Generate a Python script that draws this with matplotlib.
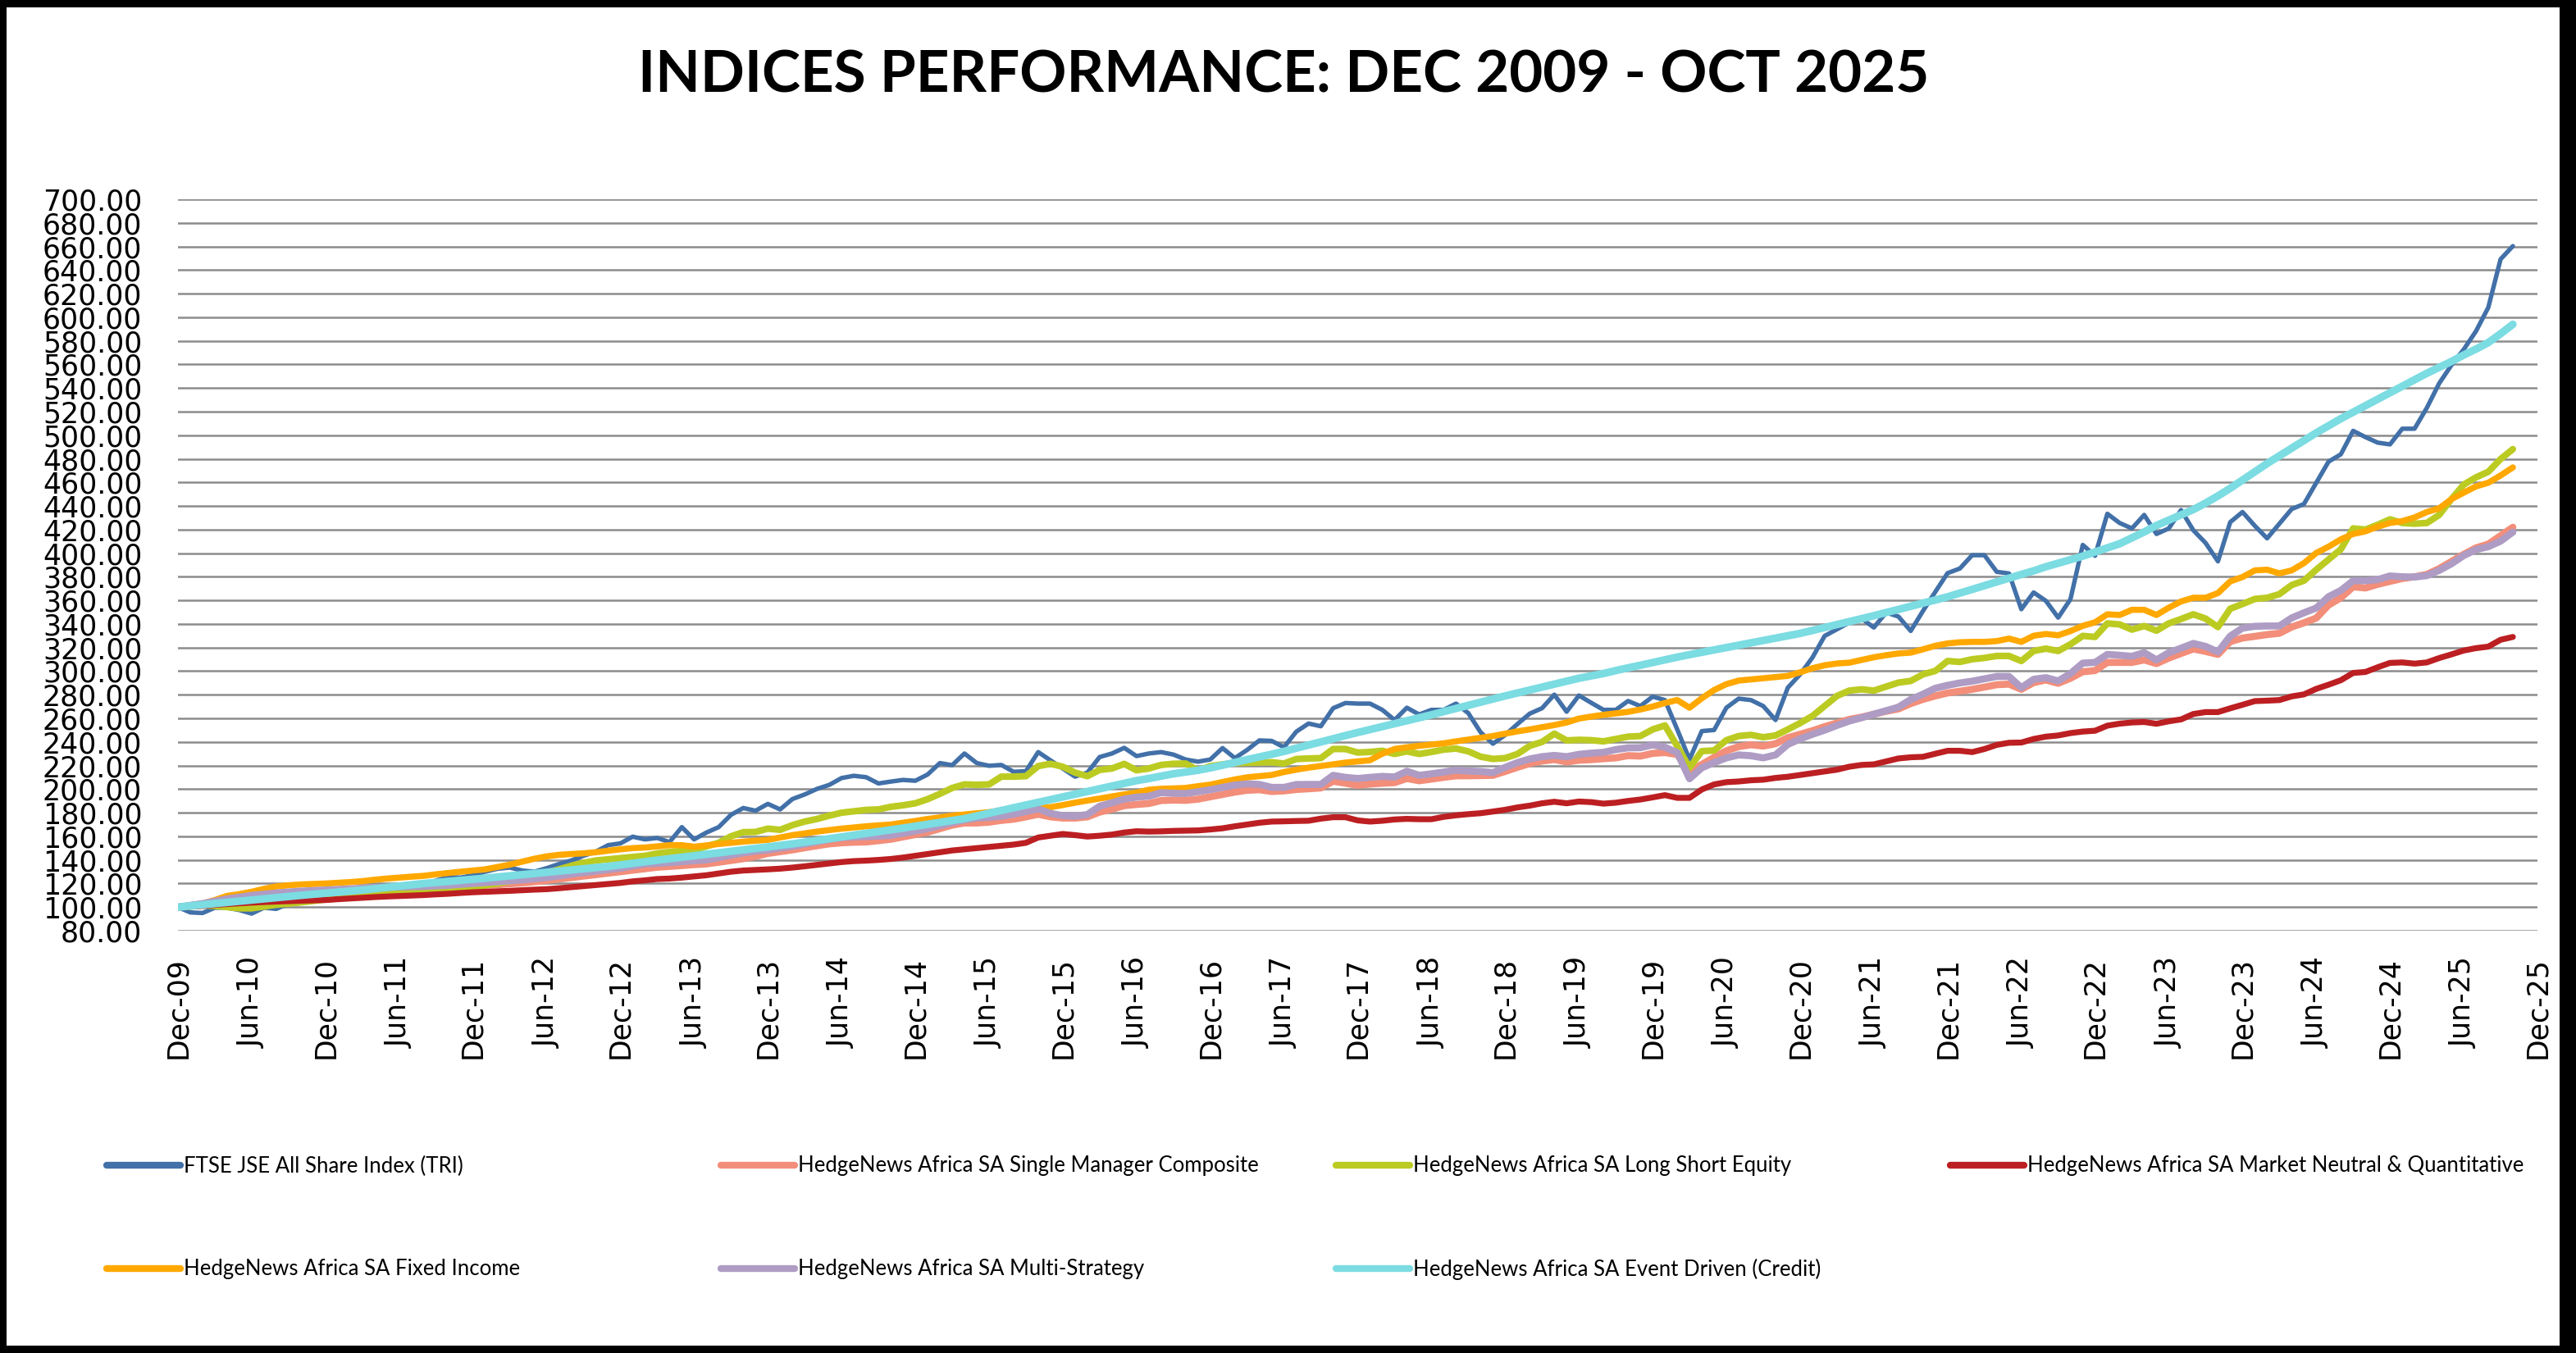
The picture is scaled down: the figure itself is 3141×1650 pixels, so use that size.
import numpy as np
import pandas as pd
import matplotlib
matplotlib.use("Agg")
import matplotlib.pyplot as plt
from matplotlib.lines import Line2D
from matplotlib.patches import Rectangle
from matplotlib.ticker import FuncFormatter

# Monthly index levels, Dec 2009 = 100, through Oct 2025 (one row per 12 months)
first_month = "2009-12-01"

ftse_alsi = [
    100, 95.5, 95, 99.5, 99.5, 97.5, 94.5, 99.5, 98.5, 103, 105, 107.5,
    109.5, 110, 111, 113, 114, 114.5, 115.5, 116, 119, 122.5, 125.5, 125,
    127, 130, 132.5, 133.5, 131, 130, 133, 136.5, 139.5, 143.5, 147, 152.5,
    154, 159.7, 157.4, 158.6, 155.1, 167.8, 157.4, 163.2, 167.8, 178.2, 184, 181.7,
    187.5, 182.8, 191.6, 195.5, 200.2, 203.6, 209.4, 211.3, 210.1, 204.8, 206.4, 207.8,
    207.1, 212.4, 222.1, 220.3, 230.2, 222.1, 219.8, 220.5, 214.7, 215.2, 231.4, 224.4,
    217.5, 210.6, 214, 227.2, 230.2, 235, 228, 230.2, 231.4, 229.3, 225.1, 223.3,
    225.1, 234.8, 226.3, 233.2, 241.3, 240.9, 235.5, 248.7, 255.6, 253.3, 268.6, 273,
    272.5, 272.5, 267.2, 258.6, 269, 263.3, 267.2, 267.2, 272.5, 264.4, 248.2, 238.5,
    245.9, 255.2, 264, 268.6, 280.1, 265.6, 279.4, 273.2, 267.2, 267.2, 274.7, 270.4,
    278.4, 275.5, 250.6, 225.2, 249.2, 250.1, 269, 276.7, 275.5, 270.4, 258.6, 286,
    297.3, 311.5, 329.9, 335.5, 341.2, 344.6, 337, 349.7, 346.3, 334.1, 351.1, 367.2,
    383.1, 387, 398.3, 398.3, 384.2, 382.8, 352.5, 366.7, 359.6, 345.4, 361, 407,
    397.8, 433.4, 425.6, 421, 432.4, 416.3, 421, 436.5, 419.4, 408.6, 393.1, 426.3,
    434.9, 423.2, 412.6, 425, 437.4, 441.7, 459.7, 477.6, 483.8, 503.7, 498.4, 493.7,
    492.2, 505.5, 505.5, 523.2, 543.9, 559.4, 572.7, 588.2, 608.3, 649.2, 660.3,
]

single_manager = [
    100, 101, 102, 103.3, 104.5, 105.5, 106.5, 107.3, 108, 108.8, 109.5, 110.3,
    111, 111.5, 112, 112.5, 113, 113.5, 114, 114.5, 115, 115.8, 116.5, 117.3,
    118, 118.5, 119, 119.8, 120.5, 121.5, 122.5, 123.8, 125, 126.3, 127.5, 128.8,
    130, 131.3, 132.5, 133.8, 134.5, 135.2, 136, 136.6, 138, 139.5, 141, 143,
    145.5, 147, 148.5, 150.3, 152, 153.6, 154.5, 155, 155.2, 156.3, 157.5, 159.5,
    161.5, 163.5, 166.5, 169.5, 171.3, 171.3, 172, 173.5, 174.5, 176.5, 178.7, 176.5,
    175.5, 175.5, 176.5, 180.5, 183, 186, 187, 187.8, 190.3, 190.7, 190.5, 191.5,
    193.5, 195.5, 197.5, 199, 199.5, 198, 198.5, 199.7, 200.3, 201, 206.7, 205,
    203.2, 204.3, 205, 205.5, 209, 207.1, 208.5, 210, 211.3, 211.3, 211.5, 211.7,
    215, 218.5, 221.7, 223.8, 225.1, 223, 224.5, 225, 225.8, 226.5, 228.4, 228,
    230.3, 231, 229.4, 215.3, 220.9, 227, 232.5, 236, 237.6, 236.5, 238.5, 243.6,
    246.5, 249.5, 253, 256, 259.1, 261, 263.5, 266, 268, 272.5, 276.1, 279,
    281.5, 283, 284.6, 286.5, 288.5, 289, 284.6, 290.3, 292.5, 289.7, 294, 299.5,
    300.5, 307.4, 307.4, 307.4, 309.5, 306.4, 311.1, 315, 318.8, 316.7, 314.2, 325,
    328.1, 329.5, 331, 332.1, 337.4, 341, 345, 356, 362.2, 371.5, 370.5, 373.6,
    376.1, 378.5, 380, 382, 386.9, 393, 399, 404.5, 407.7, 414.8, 422,
]

long_short = [
    100, 100.5, 101.5, 101, 100, 99, 99, 100.5, 102, 103, 104, 105.2,
    106.5, 107.3, 108.2, 109, 110, 111, 112, 113, 114, 114.5, 115, 116,
    117, 118.5, 120, 122, 124, 126.5, 129, 132, 135, 137.5, 139.5, 140.5,
    141.5, 142.5, 143.5, 145.5, 146.8, 147.7, 148.2, 151.5, 154.5, 160, 163.5, 163.7,
    166.5, 165.5, 169.5, 172.5, 174.7, 177.5, 180, 181.2, 182.4, 182.8, 185, 186.3,
    188, 191.5, 196, 201, 204, 203.7, 204, 210.6, 210.6, 211, 219.5, 221.5,
    219, 214, 211, 216.3, 217.5, 221.4, 216, 217.5, 220.5, 221.5, 221.7, 215.9,
    219.5, 221, 222, 222.4, 222.6, 222.8, 221.7, 225.5, 226, 226.3, 234, 234,
    231, 231.5, 232.5, 229.8, 232, 229.8, 231.5, 233.5, 234.4, 232, 227.5, 225.6,
    226.3, 229.8, 236.7, 240, 247, 241.3, 241.8, 241.5, 240.5, 242.5, 244.5, 245,
    250.6, 254, 236.5, 218.1, 232.2, 232.8, 241.5, 245, 246, 244, 245.5, 250.6,
    256, 262, 270.5, 279, 283.5, 284.6, 283.5, 286.9, 290.3, 291.7, 297.3, 300.2,
    308.6, 307.8, 310.1, 311.2, 312.9, 312.9, 308.6, 317.1, 319.1, 317.1, 322.8, 329.9,
    329, 340.5, 339.6, 335.2, 338.3, 334.3, 340.5, 344.2, 348.2, 344.5, 337.4, 352.9,
    356.9, 361.2, 362.2, 365.3, 373, 376.7, 386, 394.7, 403.3, 421, 420, 424.1,
    428.7, 425.6, 425, 425.6, 432.4, 445.8, 458.1, 464.3, 469, 479.8, 488.2,
]

market_neutral = [
    100, 100.5, 101, 101.8, 102.6, 103.2, 103.8, 104.3, 104.7, 105, 105.4, 105.7,
    106, 106.7, 107.3, 107.9, 108.5, 109, 109.4, 109.8, 110.2, 110.8, 111.3, 112,
    112.6, 113, 113.4, 113.8, 114.3, 114.8, 115.2, 116, 116.9, 117.8, 118.7, 119.6,
    120.5, 121.8, 122.7, 123.8, 124.2, 125, 126, 127, 128.5, 130, 131, 131.5,
    132, 132.6, 133.5, 134.6, 135.8, 137, 138.2, 139, 139.4, 140, 140.8, 142,
    143.5, 145, 146.5, 148, 149, 150, 151, 152, 153, 154.5, 159, 160.5,
    162, 161, 159.8, 160.5, 161.5, 163.2, 164.3, 164, 164.2, 164.6, 164.8, 165,
    165.8, 166.8, 168.5, 170, 171.5, 172.5, 172.7, 173, 173.2, 175, 176.2, 176.2,
    173.5, 172.5, 173.2, 174.3, 174.8, 174.5, 174.5, 176.5, 177.8, 178.8, 179.6, 181,
    182.5, 184.5, 186, 188, 189.3, 188, 189.5, 189, 187.7, 188.5, 190, 191.2,
    193, 194.9, 192.6, 192.6, 199.7, 204, 205.9, 206.5, 207.5, 208, 209.5, 210.5,
    212, 213.5, 215, 216.5, 219, 220.5, 221, 223.5, 226, 227, 227.4, 230,
    232.5, 232.5, 231.4, 234, 237.5, 239.3, 239.5, 242.5, 244.5, 245.5, 247.5, 248.8,
    249.5, 253.8, 255.5, 256.5, 256.9, 255.4, 257.5, 259.1, 263.7, 265.3, 265.3, 268.5,
    271.5, 274.6, 275, 275.5, 278.6, 280.3, 285, 288.5, 292.3, 298.5, 299.3, 303.3,
    307, 307.4, 306.4, 307.4, 311.1, 314.2, 317.5, 319.5, 320.8, 326.6, 329,
]

fixed_income = [
    100, 101.5, 103, 106, 109.5, 111, 113, 115.5, 117.5, 118.5, 119.2, 119.6,
    120, 120.6, 121.2, 122, 123.2, 124.2, 125, 125.8, 126.5, 127.8, 128.9, 130,
    131, 132, 134, 136, 138.5, 141, 143, 144.3, 145, 145.6, 146.5, 147.8,
    149, 150, 150.5, 151.5, 152.5, 152.5, 151.2, 152.3, 153.5, 154.5, 155.5, 156.3,
    157, 159, 161, 162.5, 164, 165.3, 166.5, 167.5, 168.5, 169.3, 170, 171.5,
    173, 174.7, 176, 177.5, 178.5, 179.5, 180.5, 181.8, 183.3, 184.2, 184.5, 184.7,
    186.5, 188.5, 190.3, 192, 193.8, 195.5, 197, 199.5, 200.3, 200.6, 201, 202.5,
    203.8, 206, 208.2, 210, 211, 212, 214.5, 216.5, 218.2, 219.6, 221, 222.5,
    223.5, 224.5, 230, 234, 235.5, 236.7, 237.8, 238.8, 240.5, 242, 243.5, 245,
    247, 249, 250.6, 252.5, 254.3, 256.5, 259.8, 261.5, 263, 264.2, 265.5, 267.5,
    270, 273, 275.5, 269, 277, 284, 289, 292, 293, 294, 295, 296,
    299, 302.5, 305, 306.5, 307.2, 309.5, 311.8, 313.5, 315, 315.7, 318.5, 321.5,
    323.5, 324.5, 324.8, 324.8, 325.5, 327.6, 324.8, 330, 331.5, 330.4, 334, 338.4,
    341.4, 348.2, 347.6, 352, 352, 347.6, 353.8, 359.1, 362.2, 362.2, 366.2, 376.1,
    379.8, 385.4, 386, 382.9, 385.4, 391.6, 400.2, 405.5, 411.7, 416.3, 418.5, 422.5,
    425.6, 427.2, 430.3, 434.9, 438, 445.8, 451.3, 456.6, 459.7, 465.9, 472.7,
]

multi_strategy = [
    100, 101.5, 103, 105, 107, 108.5, 110, 111, 112, 112.8, 113.5, 114,
    114.5, 115, 115.5, 116, 116.5, 116.8, 117, 117.3, 117.5, 118, 118.5, 119.3,
    120, 120.8, 121.5, 122.3, 123, 124, 125, 126.5, 128, 129.3, 130.5, 131.8,
    133, 134.8, 136.6, 137, 137.6, 138.5, 139.3, 140, 142, 144, 146, 147.5,
    148.5, 150, 151.5, 153.5, 155.5, 157.5, 159, 159.5, 159.8, 160.2, 160.8, 162.5,
    164.5, 166.5, 169, 171.5, 174, 175.5, 176, 177, 178.8, 181, 183.3, 179.5,
    177.5, 177, 178.5, 185.5, 188.5, 191.6, 193.2, 194, 197, 196.5, 196.3, 197.8,
    199.5, 201.5, 203.5, 204.5, 204, 201.5, 201.5, 203.9, 204, 204, 211.7, 210,
    209, 210, 210.8, 210.3, 215.2, 211.7, 213, 214.5, 216, 215.4, 215, 214,
    218.5, 222.5, 225.6, 227.5, 228.6, 227.5, 229.5, 230.5, 231.2, 233.5, 235, 235.1,
    237.5, 235.5, 231, 208.8, 218.1, 222.5, 226.5, 229, 228.3, 226.5, 229, 237.9,
    242.5, 246.5, 250, 254, 257.7, 260.5, 263.5, 266.5, 269.5, 276, 280.5, 285.5,
    288, 290, 291.5, 293.5, 295.5, 295.5, 286, 293.1, 294.5, 291.7, 298, 306.8,
    307.4, 314.2, 313.5, 312.6, 315.7, 309.5, 315.7, 319.5, 323.5, 321, 316.3, 329.7,
    336.5, 338, 338.3, 338.3, 345.1, 349.5, 353.5, 363.1, 368.4, 376.7, 376.7, 377.6,
    380.7, 380, 379.8, 381, 385.4, 391, 398, 403, 405.5, 410.2, 417.9,
]

event_driven = [
    100, 101, 102, 103, 104, 105, 106, 107, 108, 109, 110, 110.9,
    111.8, 112.7, 113.6, 114.5, 115.6, 116.7, 117.8, 118.9, 120, 120.9, 121.8, 122.7,
    123.6, 124.5, 125.5, 126.5, 127.5, 128.5, 129.5, 130.5, 131.5, 132.5, 133.5, 134.5,
    135.8, 137.1, 138.5, 139.8, 141, 142.3, 143.5, 144.8, 146, 147.3, 148.5, 149.8,
    151, 152.3, 153.6, 155, 156.5, 158, 159.5, 161, 162.5, 164, 165.5, 167,
    168.6, 170.2, 171.8, 173.4, 175, 177.3, 179.6, 181.9, 184.2, 186.5, 188.8, 191.1,
    193.4, 195.7, 198, 200.3, 202.6, 204.9, 207.2, 209, 211, 213, 214.5, 216,
    218, 220.3, 222.6, 225, 227.3, 229.6, 232, 234.7, 237.4, 240, 242.7, 245.4,
    248, 250.5, 253, 255.5, 258, 260.5, 263, 265.7, 268.4, 271, 273.7, 276.4,
    279, 281.5, 284, 286.5, 289, 291.5, 294, 296, 298, 300.5, 302.8, 305,
    307.3, 309.6, 311.9, 314, 316, 318, 320, 322, 324, 326, 328, 330,
    332, 334.5, 337, 339.5, 342, 344.5, 347, 349.7, 352.3, 355, 357.7, 360.3,
    363, 366.2, 369.3, 372.5, 375.7, 378.8, 382, 385, 388.5, 391.5, 394.5, 397.5,
    401, 404.5, 408, 413, 418, 423.5, 428, 432.5, 437, 442.5, 448.5, 455,
    462, 469, 476, 482.5, 489, 495.5, 502, 508, 514, 519.5, 525, 530.5,
    536, 541.5, 547, 552.5, 557.5, 562.5, 568, 573, 578.5, 586, 594,
]

series = [
    ("FTSE JSE All Share Index (TRI)", ftse_alsi, "#4270A8", 3.9),
    ("HedgeNews Africa SA Single Manager Composite", single_manager, "#F28E7A", 6.2),
    ("HedgeNews Africa SA Long Short Equity", long_short, "#BCCB22", 5.8),
    ("HedgeNews Africa SA Market Neutral & Quantitative", market_neutral, "#BC1F22", 5.2),
    ("HedgeNews Africa SA Fixed Income", fixed_income, "#FFA800", 5.4),
    ("HedgeNews Africa SA Multi-Strategy", multi_strategy, "#AE9CC4", 6.2),
    ("HedgeNews Africa SA Event Driven (Credit)", event_driven, "#7BDCE2", 6.7),
]

W, H = 3141, 1650
fig = plt.figure(figsize=(W / 100, H / 100), dpi=100)
fig.patch.set_facecolor("black")
fig.patches.append(Rectangle((8 / W, 9 / H), (3121 - 8) / W, (1641 - 9) / H,
                             transform=fig.transFigure, facecolor="white",
                             edgecolor="none", zorder=-1))

left, right = 217 / W, 3094 / W
bottom, top = 1 - 1135 / H, 1 - 243 / H
ax = fig.add_axes([left, bottom, right - left, top - bottom])

for i, (name, vals, color, lw) in enumerate(series):
    ax.plot(np.arange(len(vals)), vals, color=color, lw=lw, zorder=3 + i,
            solid_joinstyle="round", solid_capstyle="round")

ax.set_xlim(0, 192)
ax.set_ylim(80, 700)
ax.set_yticks(np.arange(80, 701, 20))
ax.yaxis.set_major_formatter(FuncFormatter(lambda v, p: f"{v:.2f}"))

tick_months = np.arange(0, 193, 6)
tick_labels = pd.date_range(first_month, periods=len(tick_months), freq="6MS").strftime("%b-%y")
ax.set_xticks(tick_months)
ax.set_xticklabels(tick_labels, rotation=90)

ax.tick_params(axis="both", length=0, labelsize=25)
ax.tick_params(axis="y", pad=31.5)
ax.tick_params(axis="x", pad=23)
for sp in ax.spines.values():
    sp.set_visible(False)
ax.grid(axis="y", color="#8C8C8C", lw=1.8)
ax.set_axisbelow(True)

fig.text(1565 / W, 1 - 92 / H, "INDICES PERFORMANCE: DEC 2009 - OCT 2025",
         ha="center", va="center", fontsize=51, fontweight="bold", family="Lato")

# legend: 4 columns, 2 rows below the plot
col_x = [126, 875, 1625, 2374]
row_y = [1422, 1548]
slots = [(0, 0), (1, 0), (2, 0), (3, 0), (0, 1), (1, 1), (2, 1)]
for k, (c, r) in enumerate(slots):
    name, vals, color, lw = series[k]
    h = Line2D([0], [0], color=color, lw=6.0, solid_capstyle="round")
    fig.legend(handles=[h], labels=[name], loc="center left",
               bbox_to_anchor=((col_x[c] + 4) / W, 1 - row_y[r] / H),
               frameon=False, borderpad=0, borderaxespad=0,
               handlelength=3.5, handletextpad=0.16,
               prop={"family": "Lato", "size": 18.5})

fig.savefig("out.png", dpi=100, facecolor=fig.get_facecolor())
